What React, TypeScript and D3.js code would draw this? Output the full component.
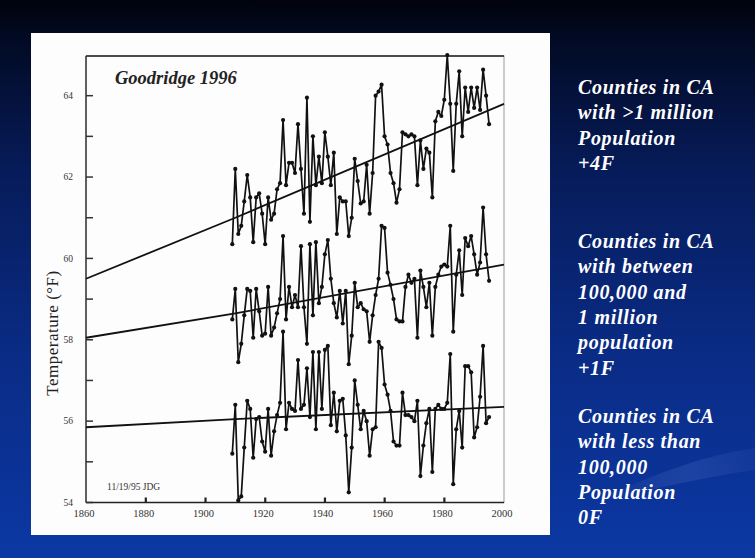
import React from "react";
import * as d3 from "d3";

// Goodridge 1996: annual mean temperature of California counties,
// grouped by population, with linear trends.

const FIRST_YEAR = 1909;

// > 1 million population
const HIGH = [
  60.35,
  62.2, 60.6, 60.8, 61.4, 62.05, 61.5, 60.4, 61.5, 61.6, 61.1,
  60.35, 61.5, 60.95, 61.1, 61.7, 61.85, 63.4, 61.8, 62.35, 62.35,
  62.1, 63.3, 62.2, 61.1, 63.95, 60.9, 63.0, 61.8, 62.5, 61.85,
  63.1, 62.5, 61.8, 62.6, 60.6, 61.5, 61.4, 61.4, 60.55, 61.0,
  62.45, 61.9, 61.35, 61.4, 62.3, 61.1, 62.1, 64.0, 64.1, 64.27,
  63.0, 62.8, 62.1, 61.85, 61.37, 61.7, 63.1, 63.05, 63.0, 63.05,
  63.0, 61.8, 62.9, 62.2, 62.7, 62.6, 61.5, 63.37, 63.6, 63.5,
  63.9, 65.0, 63.8, 62.15, 63.8, 64.6, 63.0, 64.2, 63.6, 64.2,
  63.7, 64.2, 63.65, 64.64, 64.0, 63.3,
];

// 100,000 to 1 million
const MID = [
  58.5,
  59.25, 57.45, 57.9, 58.6, 59.25, 59.2, 58.05, 59.25, 58.7, 58.1,
  58.15, 59.3, 58.1, 58.3, 58.65, 59.0, 60.55, 58.5, 59.3, 58.8,
  59.1, 58.8, 60.3, 58.8, 57.9, 60.35, 58.6, 60.4, 58.9, 59.3,
  60.1, 60.45, 59.5, 58.9, 58.55, 59.2, 58.4, 59.2, 57.4, 58.1,
  59.4, 58.8, 58.9, 58.75, 58.7, 57.95, 58.6, 59.1, 59.5, 60.8,
  60.75, 59.65, 59.35, 59.0, 58.5, 58.45, 58.45, 59.3, 59.6, 59.4,
  59.5, 58.05, 59.7, 59.3, 58.8, 59.4, 58.1, 59.3, 59.6, 59.8,
  59.85, 59.8, 60.8, 58.2, 59.6, 60.2, 59.1, 60.5, 60.3, 60.55,
  60.1, 59.6, 59.9, 61.25, 60.1, 59.45,
];

// < 100,000
const LOW = [
  55.2,
  56.4, 54.05, 54.15, 55.35, 56.5, 56.3, 55.1, 56.05, 56.1, 55.5,
  55.25, 56.3, 55.15, 55.75, 56.15, 56.45, 58.2, 55.8, 56.45, 56.3,
  56.25, 57.5, 56.3, 56.4, 57.3, 56.1, 57.7, 55.8, 57.7, 56.3,
  57.75, 57.85, 55.9, 56.7, 55.75, 56.5, 56.55, 55.65, 54.25, 55.35,
  57.0, 56.4, 55.8, 56.25, 56.0, 55.15, 55.8, 55.85, 57.95, 57.8,
  56.9, 56.65, 56.25, 55.5, 55.4, 55.4, 56.7, 56.15, 56.15, 56.1,
  56.0, 56.5, 54.65, 55.4, 55.95, 56.3, 54.75, 56.3, 56.4, 56.3,
  56.3, 56.45, 57.65, 54.45, 55.8, 56.25, 55.35, 57.35, 57.35, 57.2,
  55.6, 55.85, 56.6, 57.85, 55.95, 56.1,
];

// trend lines (extrapolated back to 1860)
const TREND_YEARS = [1860, 1910, 2000];
const TREND_HIGH = [59.5, 61.0, 63.8];
const TREND_MID = [58.05, 58.65, 59.85];
const TREND_LOW = [55.85, 56.05, 56.35];

const Y_MAJOR = [54, 56, 58, 60, 62, 64];
const Y_MINOR = [55, 57, 59, 61, 63];
const X_TICKS = [1860, 1880, 1900, 1920, 1940, 1960, 1980, 2000];

const NOTES = [
  ["Counties in CA", "with >1 million", "Population", "+4F"],
  ["Counties in CA", "with between", "100,000 and", "1 million", "population", "+1F"],
  ["Counties in CA", "with less than", "100,000", "Population", "0F"],
];

const W = 755;
const H = 558;
const PLOT = { left: 86, right: 504, top: 56, bottom: 502.5 };
const SERIF = "'Liberation Serif', 'Times New Roman', serif";

export default function App() {
  const x = d3.scaleLinear().domain([1860, 2000]).range([PLOT.left, PLOT.right]);
  const y = d3.scaleLinear().domain([54, 65]).range([PLOT.bottom, 55]);

  const series = d3
    .line<number>()
    .x((_, i) => x(FIRST_YEAR + i))
    .y((v) => y(v));
  const trend = d3
    .line<number>()
    .x((_, i) => x(TREND_YEARS[i]))
    .y((v) => y(v));

  const noteTops = [94, 248, 423];

  return (
    <svg
      width={W}
      height={H}
      viewBox={`0 0 ${W} ${H}`}
      style={{ position: "absolute", left: 0, top: 0 }}
    >
      <defs>
        <linearGradient id="bg" x1="0" y1="0" x2="0" y2="1">
          <stop offset="0" stopColor="#01030c" />
          <stop offset="0.07" stopColor="#020a24" />
          <stop offset="0.3" stopColor="#061b58" />
          <stop offset="0.62" stopColor="#0a2b84" />
          <stop offset="1" stopColor="#0b38a3" />
        </linearGradient>
        <linearGradient id="swoosh" x1="0" y1="0" x2="1" y2="0">
          <stop offset="0" stopColor="#ffffff" stopOpacity="0" />
          <stop offset="0.6" stopColor="#9fb4ff" stopOpacity="0.12" />
          <stop offset="1" stopColor="#9fb4ff" stopOpacity="0.05" />
        </linearGradient>
      </defs>
      <rect x={0} y={0} width={W} height={H} fill="url(#bg)" />
      <path d="M600,500 C660,470 710,455 755,448 L755,470 C710,476 660,488 600,500 Z" fill="url(#swoosh)" />

      {/* white chart card */}
      <rect x={31} y={33} width={519} height={502} fill="#fdfdfd" />

      {/* frame */}
      <rect
        x={PLOT.left}
        y={PLOT.top}
        width={PLOT.right - PLOT.left}
        height={PLOT.bottom - PLOT.top}
        fill="none"
        stroke="#9a9a9a"
        strokeWidth={1}
      />
      <line x1={PLOT.left} x2={PLOT.right} y1={PLOT.top} y2={PLOT.top} stroke="#222" strokeWidth={1.6} />
      <line x1={PLOT.left} x2={PLOT.left} y1={PLOT.top} y2={PLOT.bottom} stroke="#333" strokeWidth={1.4} />
      <line x1={PLOT.left} x2={PLOT.right} y1={PLOT.bottom} y2={PLOT.bottom} stroke="#222" strokeWidth={1.6} />

      {/* y ticks */}
      {Y_MAJOR.concat(Y_MINOR).map((t) => (
        <line key={t} x1={PLOT.left} x2={PLOT.left + 7} y1={y(t)} y2={y(t)} stroke="#333" strokeWidth={1.5} />
      ))}
      {Y_MAJOR.map((t) => (
        <text
          key={t}
          x={PLOT.left - 13}
          y={y(t)}
          dy="0.35em"
          textAnchor="end"
          fontFamily={SERIF}
          fontSize={9.5}
          fill="#333"
        >
          {t}
        </text>
      ))}

      {/* x ticks */}
      {X_TICKS.slice(1, -1).map((t) => (
        <rect key={t} x={x(t) - 1} y={PLOT.bottom - 5} width={2.2} height={5} fill="#222" />
      ))}
      {X_TICKS.map((t) => (
        <text
          key={t}
          x={x(t) - 2}
          y={517}
          textAnchor="middle"
          fontFamily={SERIF}
          fontSize={10.5}
          fill="#333"
        >
          {t}
        </text>
      ))}

      <text
        transform={`translate(52,333) rotate(-90)`}
        textAnchor="middle"
        dy="0.35em"
        fontFamily={SERIF}
        fontSize={17}
        letterSpacing={0.5}
        fill="#222"
      >
        Temperature (°F)
      </text>

      <text x={115} y={84} fontFamily={SERIF} fontSize={18.5} fontStyle="italic" fontWeight="bold" fill="#222">
        Goodridge 1996
      </text>
      <text x={107} y={490} fontFamily={SERIF} fontSize={9.5} fill="#333">
        11/19/95 JDG
      </text>

      {/* trends */}
      {[TREND_HIGH, TREND_MID, TREND_LOW].map((t, i) => (
        <path key={i} d={trend(t) ?? ""} fill="none" stroke="#111" strokeWidth={1.8} />
      ))}

      {/* annual series */}
      {[HIGH, MID, LOW].map((s, i) => (
        <g key={i}>
          <path d={series(s) ?? ""} fill="none" stroke="#111" strokeWidth={1.7} strokeLinejoin="round" />
          {s.map((v, j) => (
            <circle key={j} cx={x(FIRST_YEAR + j)} cy={y(v)} r={2.1} fill="#111" />
          ))}
        </g>
      ))}

      {/* notes on the right */}
      {NOTES.map((lines, g) => (
        <text
          key={g}
          fontFamily={SERIF}
          fontSize={20}
          letterSpacing={0.7}
          fontStyle="italic"
          fontWeight="bold"
          fill="#ffffff"
        >
          {lines.map((ln, k) => (
            <tspan key={k} x={578} y={noteTops[g] + k * 25.3}>
              {ln}
            </tspan>
          ))}
        </text>
      ))}
    </svg>
  );
}
